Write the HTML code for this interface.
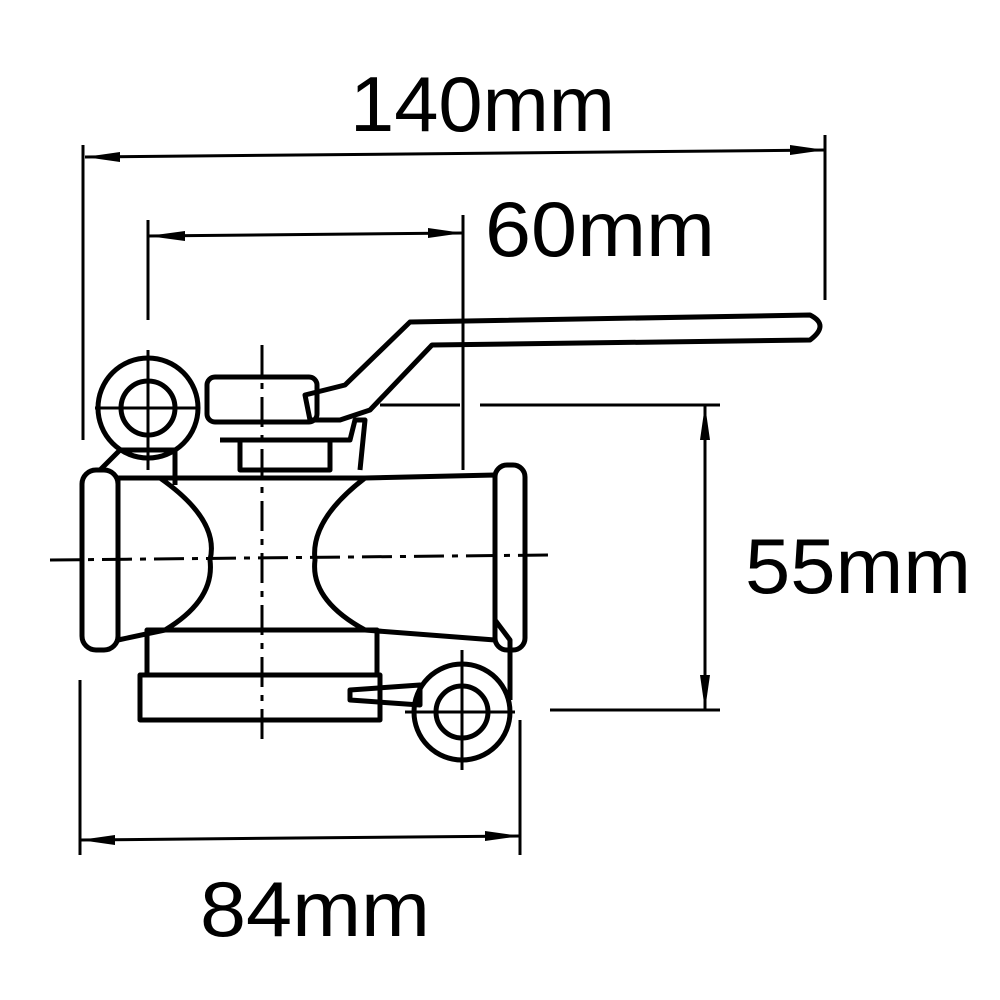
<!DOCTYPE html>
<html><head><style>body{margin:0;background:#fff}svg{display:block}</style></head><body>
<svg width="1000" height="1000" viewBox="0 0 1000 1000" xmlns="http://www.w3.org/2000/svg">
<rect width="1000" height="1000" fill="#fff"/>
<g font-family="Liberation Sans, sans-serif" font-size="78" fill="#000">
<text x="350" y="131" textLength="265" lengthAdjust="spacingAndGlyphs">140mm</text>
<text x="485" y="256" textLength="230" lengthAdjust="spacingAndGlyphs">60mm</text>
<text x="745" y="593" textLength="226" lengthAdjust="spacingAndGlyphs">55mm</text>
<text x="200" y="936" textLength="230" lengthAdjust="spacingAndGlyphs">84mm</text>
</g>
<g stroke="#000" fill="none" stroke-width="3">
<line x1="83" y1="145" x2="83" y2="440"/><line x1="825" y1="135" x2="825" y2="300"/>
<line x1="85" y1="157" x2="825" y2="150"/>
<line x1="148" y1="220" x2="148" y2="320"/><line x1="463" y1="215" x2="463" y2="470"/>
<line x1="148" y1="236" x2="463" y2="233"/>
<line x1="705" y1="405" x2="705" y2="710"/>
<line x1="480" y1="405" x2="720" y2="405"/><line x1="550" y1="710" x2="720" y2="710"/>
<line x1="80" y1="680" x2="80" y2="855"/><line x1="520" y1="720" x2="520" y2="855"/>
<line x1="80" y1="840" x2="520" y2="836"/>
</g>
<g fill="#000">
<polygon points="85,157 120,152 120,162"/><polygon points="825,150 790,145 790,155"/>
<polygon points="148,236 185,231 185,241"/><polygon points="463,233 428,228 428,238"/>
<polygon points="705,405 700,440 710,440"/><polygon points="705,710 700,675 710,675"/>
<polygon points="80,840 115,835 115,845"/><polygon points="520,836 485,831 485,841"/>
</g>
<g stroke="#000" fill="none" stroke-width="5" stroke-linejoin="round">
<path d="M305,395 L345,385 L410,322 L810,315 Q830,325 810,340 L432,345 L370,410 L340,420 L310,420 Z"/>
<rect x="207" y="377" width="110" height="45" rx="8"/>
<rect x="240" y="440" width="90" height="30"/>
<path d="M220,440 L350,440 L355,420 L365,420 L360,470"/>
<path d="M118,478 L160,478 Q220,520 210,560 Q215,600 165,630 L118,640 Z"/>
<path d="M160,478 L365,478 Q310,520 315,560 Q310,600 365,630 L160,630"/>
<path d="M365,478 L495,475 L495,640 L365,630"/>
<rect x="82" y="470" width="36" height="180" rx="14"/>
<rect x="495" y="465" width="30" height="185" rx="12"/>
<rect x="147" y="630" width="230" height="45"/>
<rect x="140" y="675" width="240" height="45"/>
<path d="M100,470 L120,450 L175,450 L175,485"/>
<path d="M495,620 L510,640 L510,700"/>
<circle cx="148" cy="408" r="50"/><circle cx="148" cy="408" r="27"/>
<circle cx="462" cy="712" r="48"/><circle cx="462" cy="712" r="26"/>
<path d="M350,690 L420,685 L420,705 L350,700 Z"/>
</g>
<g stroke="#000" stroke-width="3" fill="none">
<line x1="148" y1="350" x2="148" y2="470"/><line x1="95" y1="408" x2="200" y2="408"/>
<line x1="462" y1="650" x2="462" y2="770"/><line x1="405" y1="712" x2="515" y2="712"/>
<line x1="262" y1="345" x2="262" y2="740" stroke-dasharray="30,8,6,8"/>
<line x1="50" y1="560" x2="550" y2="555" stroke-dasharray="30,8,6,8"/>
<line x1="380" y1="405" x2="460" y2="405"/>
</g>
</svg>
</body></html>
